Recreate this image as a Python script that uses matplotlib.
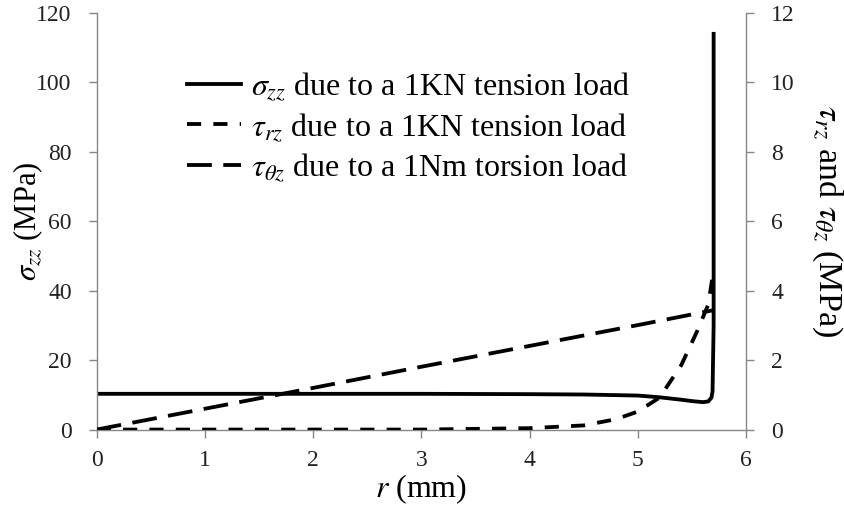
import numpy as np
import matplotlib.pyplot as plt

plt.rcParams['font.family'] = ['Liberation Serif', 'DejaVu Serif']
plt.rcParams['mathtext.fontset'] = 'stix'

# sigma_zz (MPa), left axis
r_sig = [0, 1, 2, 3, 4, 4.5, 5.0, 5.2, 5.4, 5.5, 5.6, 5.65, 5.68, 5.69, 5.70, 5.70]
sig_zz = [10.3, 10.3, 10.3, 10.3, 10.2, 10.1, 9.8, 9.3, 8.6, 8.2, 7.9, 8.1, 9.2, 11.0, 30.0, 114.0]

# tau_rz (MPa), right axis
r_rz = [0, 3, 4, 4.5, 4.8, 5.0, 5.2, 5.4, 5.55, 5.65, 5.70]
tau_rz = [0, 0.0, 0.04, 0.12, 0.3, 0.52, 0.92, 1.85, 2.85, 3.6, 4.6]

# tau_thetaz (MPa), right axis
r_tz = [0, 1, 2, 3, 4, 5, 5.70]
tau_tz = [0, 0.6, 1.2, 1.81, 2.41, 3.01, 3.44]

grey = '#868686'
fig = plt.figure(figsize=(8.44, 5.12), dpi=100)
ax = fig.add_axes([0.1146, 0.161, 0.7694, 0.8136])
ax2 = ax.twinx()

lw = 2.75
l1, = ax.plot(r_sig, sig_zz, color='black', lw=lw, label=r'$\sigma_{zz}$ due to a 1KN tension load')
l2, = ax2.plot(r_rz, tau_rz, color='black', lw=lw, dashes=(3.7, 3.2), label=r'$\tau_{rz}$ due to a 1KN tension load')
l3, = ax2.plot(r_tz, tau_tz, color='black', lw=lw, dashes=(6.5, 3.0), label=r'$\tau_{\theta z}$ due to a 1Nm torsion load')

ax.set_xlim(0, 6)
ax.set_ylim(0, 120)
ax2.set_ylim(0, 12)
ax.set_xticks(range(0, 7))
ax.set_yticks(range(0, 121, 20))
ax2.set_yticks(range(0, 13, 2))

for a in (ax, ax2):
    a.spines['top'].set_visible(False)
    for s in ('left', 'bottom', 'right'):
        a.spines[s].set_color(grey)
        a.spines[s].set_linewidth(1.0)
    a.tick_params(colors=grey, labelcolor='#222222', labelsize=17, length=6, width=1.0, pad=12)
ax.tick_params(axis='x', pad=9)
ax.spines['right'].set_visible(False)
ax2.spines['left'].set_visible(False)
ax2.spines['bottom'].set_visible(False)

ax.set_xlabel(r'$r$ (mm)', fontsize=23, labelpad=1)
ax.set_ylabel(r'$\sigma_{zz}$ (MPa)', fontsize=22, labelpad=-6)
ax2.set_ylabel(r'$\tau_{rz}$ and $\tau_{\theta z}$ (MPa)', fontsize=24.5, rotation=270, labelpad=36)

ax.legend(handles=[l1, l2, l3], loc='upper left', bbox_to_anchor=(0.139, 0.863),
          frameon=False, fontsize=23, handlelength=1.7, handletextpad=0.3,
          labelspacing=0.26, borderpad=0, borderaxespad=0)

plt.savefig('out.png', dpi=100)
